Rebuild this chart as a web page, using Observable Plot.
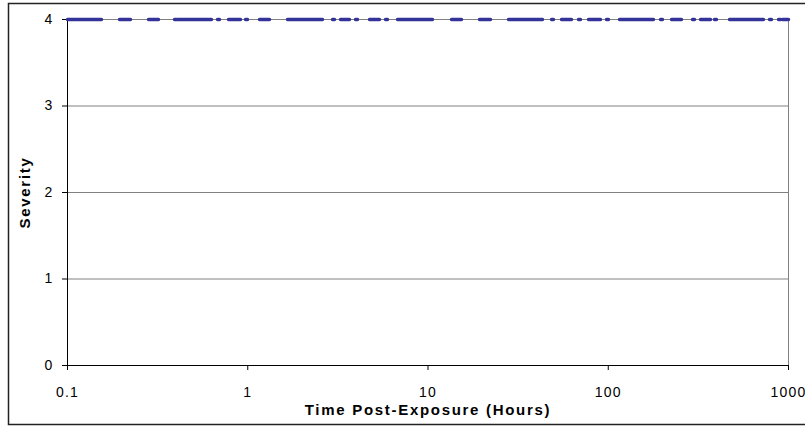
<!DOCTYPE html>
<html><head><meta charset="utf-8">
<script src="https://cdn.jsdelivr.net/npm/d3@7"></script>
<script src="https://cdn.jsdelivr.net/npm/@observablehq/plot@0.6"></script>
<style>html,body{margin:0;background:#fff;overflow:hidden}</style>
</head><body><div id="chart"></div>
<script>
const timeHours = [0.1, 1, 10, 100, 1000];
const severity = [4, 4, 4, 4, 4];
const xTicks = [0.1, 1, 10, 100, 1000];
const xTickLabels = ["0.1", "1", "10", "100", "1000"];
const yTicks = [0, 1, 2, 3, 4];
const yTickLabels = ["0", "1", "2", "3", "4"];
const gridValues = [1, 2, 3, 4];
const xTitle = "Time Post-Exposure (Hours)";
const yTitle = "Severity";

const data = timeHours.map((t, i) => ({t, s: severity[i]}));
const dash = "34,18,11,18,10,16,2,1,34,6,2,9,12,5,2,12,10,18,35,10,2,6,9,6,2,12,10,6,2,10,35,19,10,18,11,18,34,9,2,8,10,7,2,8,12,6,2,11,34,7,2,9,10,11,2,6,10,4,2,13,34,6,2,7,2,2,7,50";

const chart = Plot.plot({
  width: 805, height: 427,
  marginLeft: 67, marginRight: 17, marginTop: 19, marginBottom: 62,
  style: {fontFamily: "'Liberation Sans', Arial, sans-serif", fontSize: "14px", background: "transparent", color: "#000", overflow: "hidden"},
  x: {type: "log", domain: [0.1, 1000]},
  y: {domain: [0, 4]},
  marks: [
    Plot.ruleY(gridValues, {stroke: "#808080", strokeWidth: 1}),
    Plot.ruleX([1000], {stroke: "#808080"}),
    Plot.ruleY([0], {stroke: "#000"}),
    Plot.ruleX([0.1], {stroke: "#000"}),
    Plot.axisX({ticks: xTicks, tickFormat: d => xTickLabels[xTicks.indexOf(d)], tickSize: 5, tickPadding: 17, label: null, fontSize: 14}),
    Plot.axisY({ticks: yTicks, tickFormat: d => yTickLabels[yTicks.indexOf(d)], tickSize: 5, tickPadding: 9, label: null, fontSize: 14}),
    Plot.lineY(data, {x: "t", y: "s", stroke: "#333399", strokeWidth: 3.5, strokeDasharray: dash}),
    Plot.text([xTitle], {text: d => d, frameAnchor: "bottom", dy: 45, textAnchor: "middle", lineAnchor: "middle", fontWeight: "bold", fontSize: 15}),
    Plot.text([yTitle], {text: d => d, frameAnchor: "left", dx: -42, rotate: -90, textAnchor: "middle", lineAnchor: "middle", fontWeight: "bold", fontSize: 15})
  ]
});

const svg = d3.select(chart);
svg.selectAll("text").filter(function() { return this.textContent === xTitle || this.textContent === yTitle; })
  .style("letter-spacing", "1.7px");
svg.selectAll("g[aria-label='x-axis tick label'] text, g[aria-label='y-axis tick label'] text").style("letter-spacing", "1.2px");
// outer chart-area border: top, left and bottom (right edge lies beyond the picture)
svg.append("path").attr("d", "M812,3.5H8.5V424.5H812")
  .attr("fill", "none").attr("stroke", "#222").attr("stroke-width", 1.5);
document.getElementById("chart").appendChild(chart);
</script>
</body></html>
